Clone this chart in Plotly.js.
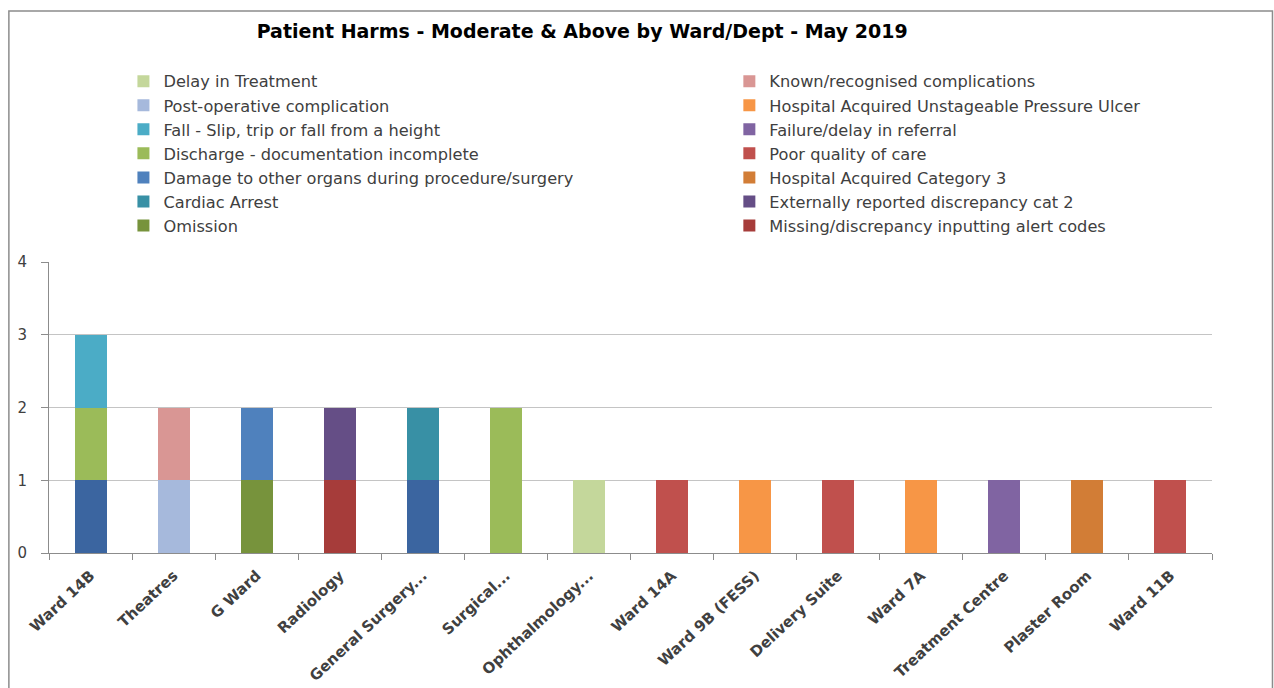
<!DOCTYPE html>
<html>
<head>
<meta charset="utf-8">
<script src="https://cdn.plot.ly/plotly-3.0.1.min.js"></script>
<style>html,body{margin:0;padding:0;background:#fff;}#chart{width:1274px;height:688px;}</style>
</head>
<body>
<div id="chart"></div>
<script>
var wards = ["Ward 14B","Theatres","G Ward","Radiology","General Surgery...","Surgical...","Ophthalmology...","Ward 14A","Ward 9B (FESS)","Delivery Suite","Ward 7A","Treatment Centre","Plaster Room","Ward 11B"];

// series values per ward (stacked bottom -> top in this order)
var otherUnlisted   = [1,0,0,0,1,0,0,0,0,0,0,0,0,0];
var postOperative   = [0,1,0,0,0,0,0,0,0,0,0,0,0,0];
var omission        = [0,0,1,0,0,0,0,0,0,0,0,0,0,0];
var missingAlert    = [0,0,0,1,0,0,0,0,0,0,0,0,0,0];
var discharge       = [1,0,0,0,0,2,0,0,0,0,0,0,0,0];
var delayTreatment  = [0,0,0,0,0,0,1,0,0,0,0,0,0,0];
var poorCare        = [0,0,0,0,0,0,0,1,0,1,0,0,0,1];
var unstageable     = [0,0,0,0,0,0,0,0,1,0,1,0,0,0];
var failureReferral = [0,0,0,0,0,0,0,0,0,0,0,1,0,0];
var category3       = [0,0,0,0,0,0,0,0,0,0,0,0,1,0];
var fall            = [1,0,0,0,0,0,0,0,0,0,0,0,0,0];
var knownComp       = [0,1,0,0,0,0,0,0,0,0,0,0,0,0];
var damageOrgans    = [0,0,1,0,0,0,0,0,0,0,0,0,0,0];
var externalCat2    = [0,0,0,1,0,0,0,0,0,0,0,0,0,0];
var cardiacArrest   = [0,0,0,0,1,0,0,0,0,0,0,0,0,0];

// [name, values, colour, legend, rank]
var series = [
  ["Other (not in legend)", otherUnlisted, "#3b65a0", null, 0],
  ["Post-operative complication", postOperative, "#a6b9dc", "legend", 2],
  ["Omission", omission, "#77933c", "legend", 7],
  ["Missing/discrepancy inputting alert codes", missingAlert, "#a63c3a", "legend2", 7],
  ["Discharge - documentation incomplete", discharge, "#9bbb59", "legend", 4],
  ["Delay in Treatment", delayTreatment, "#c4d79b", "legend", 1],
  ["Poor quality of care", poorCare, "#c0504d", "legend2", 4],
  ["Hospital Acquired Unstageable Pressure Ulcer", unstageable, "#f79646", "legend2", 2],
  ["Failure/delay in referral", failureReferral, "#8064a2", "legend2", 3],
  ["Hospital Acquired Category 3", category3, "#d27d36", "legend2", 5],
  ["Fall - Slip, trip or fall from a height", fall, "#4bacc6", "legend", 3],
  ["Known/recognised complications", knownComp, "#d99694", "legend2", 1],
  ["Damage to other organs during procedure/surgery", damageOrgans, "#4f81bd", "legend", 5],
  ["Externally reported discrepancy cat 2", externalCat2, "#654e86", "legend2", 6],
  ["Cardiac Arrest", cardiacArrest, "#3890a5", "legend", 6]
];

var traces = series.map(function(s){
  var t = {
    type: "bar",
    name: s[0],
    x: wards,
    y: s[1],
    marker: {color: s[2], line: {width: 0}},
    legendrank: s[4] * 10
  };
  if (s[3]) { t.legend = s[3]; } else { t.showlegend = false; }
  return t;
});

var FONT = "DejaVu Sans, Open Sans, sans-serif";
var legendCommon = {
  orientation: "v",
  traceorder: "normal",
  yanchor: "top",
  xanchor: "left",
  y: 1.68,
  bgcolor: "rgba(0,0,0,0)",
  font: {family: FONT, size: 16.2, color: "#404040"},
  itemclick: false,
  itemdoubleclick: false
};

var layout = {
  width: 1274,
  height: 688,
  paper_bgcolor: "#ffffff",
  plot_bgcolor: "#ffffff",
  barmode: "stack",
  bargap: 0.615,
  margin: {l: 49, r: 62, t: 262, b: 135, pad: 0},
  title: {
    text: "<b>Patient Harms - Moderate &amp; Above by Ward/Dept - May 2019</b>",
    font: {family: FONT, size: 19, color: "#000000"},
    x: 0.457, xref: "container", xanchor: "center",
    y: 0.955, yref: "container", yanchor: "middle"
  },
  legend: Object.assign({}, legendCommon, {x: 0.064}),
  legend2: Object.assign({}, legendCommon, {x: 0.585}),
  xaxis: {
    type: "category",
    tickangle: -43,
    tickfont: {family: FONT, size: 15, color: "#404040", weight: "bold"},
    ticklabelstandoff: 7,
    showline: true, linecolor: "#8c8c8c", linewidth: 1,
    ticks: "outside", ticklen: 6, tickcolor: "#8c8c8c",
    tickson: "boundaries",
    showgrid: false, zeroline: false
  },
  yaxis: {
    range: [0, 4],
    dtick: 1,
    tickfont: {family: FONT, size: 15, color: "#404040"},
    showline: true, linecolor: "#8c8c8c", linewidth: 1,
    ticks: "outside", ticklen: 7, tickcolor: "#8c8c8c",
    ticklabelstandoff: 11,
    gridcolor: "#c4c4c4", gridwidth: 1,
    zeroline: false,
    fixedrange: true
  },
  shapes: [{
    type: "rect", xref: "paper", yref: "paper",
    x0: -0.0345, x1: 1.052, y0: -0.52, y1: 1.8625,
    line: {color: "#8c8c8c", width: 1.5},
    fillcolor: "rgba(0,0,0,0)",
    layer: "below"
  }],
  showlegend: true
};

Plotly.newPlot("chart", traces, layout, {displayModeBar: false, staticPlot: true});
</script>
</body>
</html>
